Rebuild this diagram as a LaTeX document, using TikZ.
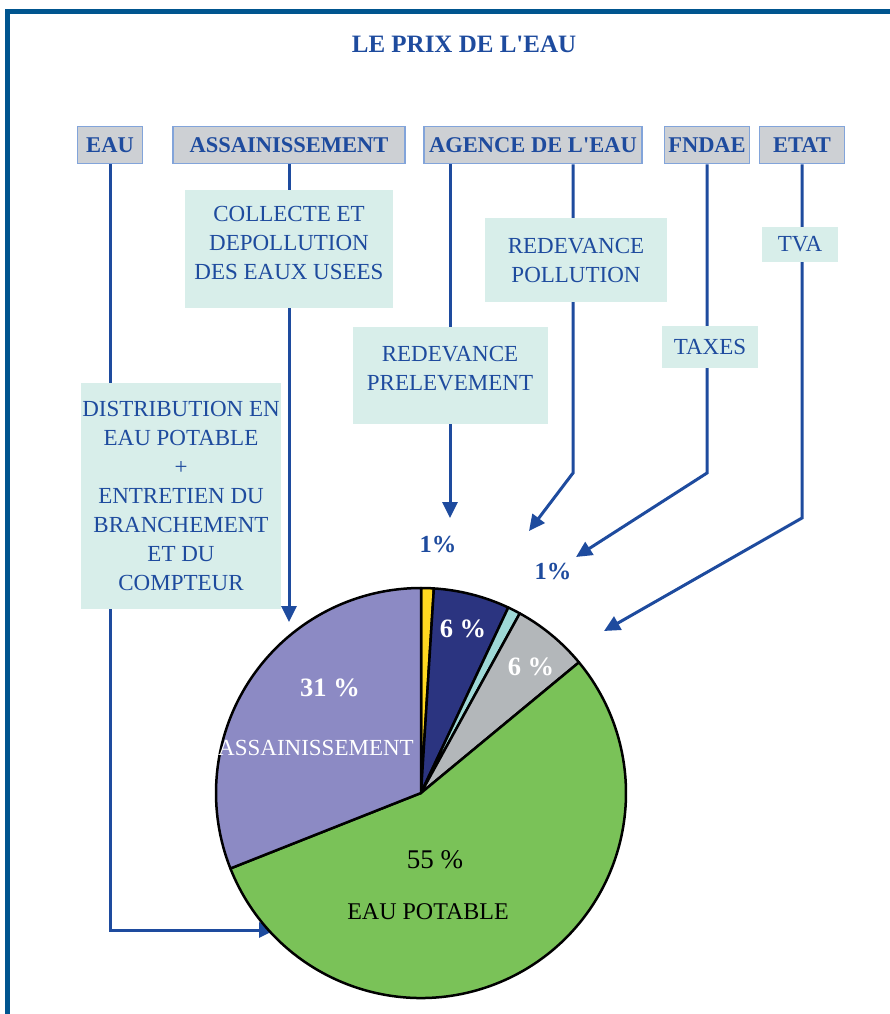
\documentclass[tikz,border=0pt]{standalone}
\usepackage{fontspec}
\setmainfont{Liberation Serif}
\usetikzlibrary{arrows.meta,backgrounds}
\definecolor{cadre}{HTML}{00558F}
\definecolor{bleu}{HTML}{1E4B9E}
\definecolor{grisbox}{HTML}{CDD0D4}
\definecolor{bordbox}{HTML}{82A4DA}
\definecolor{vertclair}{HTML}{D8EEEA}
\definecolor{lavande}{HTML}{8C8AC4}
\definecolor{marine}{HTML}{2B3480}
\definecolor{jaune}{HTML}{FFD820}
\definecolor{cyanpie}{HTML}{9ED8D6}
\definecolor{grispie}{HTML}{B3B7BA}
\definecolor{vertpie}{HTML}{7AC258}
\begin{document}
\begin{tikzpicture}[x=1pt, y=-1pt,
  tete/.style={draw=bordbox, line width=1.5pt, fill=grisbox, text=bleu,
    font=\fontsize{22.5}{26}\selectfont\bfseries, minimum height=37pt, inner sep=0pt},
  boite/.style={fill=vertclair, inner sep=0pt},
  texte/.style={text=bleu, font=\fontsize{23}{29}\selectfont, align=center, inner sep=0pt},
  fleche/.style={draw=bleu, line width=3pt, -{Triangle[length=16pt,width=15pt]}},
  pct/.style={text=bleu, font=\fontsize{24.5}{28}\selectfont\bfseries},
  part/.style={font=\fontsize{24}{28}\selectfont},
  partgras/.style={text=white, font=\fontsize{26.5}{30}\selectfont\bfseries}]
\useasboundingbox (0,0) rectangle (890,1014);
\draw[cadre, line width=5pt] (7,1014) -- (7,12) -- (890,12);
\node[text=bleu, font=\fontsize{25}{29}\selectfont\bfseries] (titre) at (464,44) {LE PRIX DE L\textquotesingle EAU};

% en-tetes
\node[tete, minimum width=65pt] (eau) at (110,145) {EAU};
\node[tete, minimum width=232pt] (assain) at (289,145) {ASSAINISSEMENT};
\node[tete, minimum width=218pt] (agence) at (533,145) {AGENCE DE L\textquotesingle EAU};
\node[tete, minimum width=85pt] (fndae) at (707,145) {FNDAE};
\node[tete, minimum width=85pt] (etat) at (802,145) {ETAT};

% postes
\node[boite, minimum width=208pt, minimum height=118pt] (collecte) at (289,249) {};
\node[texte] (collecteTxt) at (289,243) {COLLECTE ET\\DEPOLLUTION\\DES EAUX USEES};
\node[boite, texte, minimum width=182pt, minimum height=84pt] (pollution) at (576,260) {REDEVANCE\\POLLUTION};
\node[boite, texte, minimum width=76pt, minimum height=35pt] (tva) at (800,244) {TVA};
\node[boite, minimum width=195pt, minimum height=97pt] (prelev) at (450,375) {};
\node[texte] (prelevTxt) at (450,369) {REDEVANCE\\PRELEVEMENT};
\node[boite, texte, minimum width=96pt, minimum height=42pt] (taxes) at (710,347) {TAXES};
\node[boite, texte, minimum width=200pt, minimum height=226pt] (distrib) at (181,496) {DISTRIBUTION EN\\EAU POTABLE\\+\\ENTRETIEN DU\\BRANCHEMENT\\ET DU\\COMPTEUR};

\node[pct] (pctPrelev) at (438,545) {1\%};
\node[pct] (pctTaxes) at (553,572) {1\%};

\coordinate (pointeEau) at (275,930);
\coordinate (pointeAssain) at (289,622);
\coordinate (pointePrelev) at (450,518);
\coordinate (coudePollution) at (573,473);
\coordinate (pointePollution) at (529,531);
\coordinate (coudeTaxes) at (707,473);
\coordinate (pointeTaxes) at (576,557);
\coordinate (coudeEtat) at (802,518);
\coordinate (pointeEtat) at (604,631);

\begin{scope}[on background layer]
\draw[fleche] (eau.south) |- (pointeEau);
\draw[fleche] (assain.south) -- (pointeAssain);
\draw[fleche] (agence.south -| prelev) -- (pointePrelev);
\draw[fleche] (agence.south -| coudePollution) -- (coudePollution) -- (pointePollution);
\draw[fleche] (fndae.south) -- (coudeTaxes) -- (pointeTaxes);
\draw[fleche] (etat.south) -- (coudeEtat) -- (pointeEtat);
\end{scope}

% camembert
\begin{scope}[shift={(421,793)}]
\foreach \debut/\fin/\couleur in {86.4/90/jaune, 64.8/86.4/marine, 61.2/64.8/cyanpie,
    39.6/61.2/grispie, -158.4/39.6/vertpie, 90/201.6/lavande}{
  \filldraw[fill=\couleur, draw=black, line width=2.5pt, line join=round]
    (0pt,0pt) -- (\debut:205pt) arc[start angle=\debut, end angle=\fin, radius=205pt] -- cycle;
}
\end{scope}
\node[partgras] (p31) at (330,688) {31 \%};
\node[part, text=white, font=\fontsize{23}{27}\selectfont] (nomAssain) at (316,748) {ASSAINISSEMENT};
\node[partgras] (p6a) at (463,629) {6 \%};
\node[partgras] (p6b) at (531,667) {6 \%};
\node[part, font=\fontsize{27}{31}\selectfont] (p55) at (435,860) {55 \%};
\node[part] (nomEau) at (428,912) {EAU POTABLE};
\end{tikzpicture}
\end{document}
